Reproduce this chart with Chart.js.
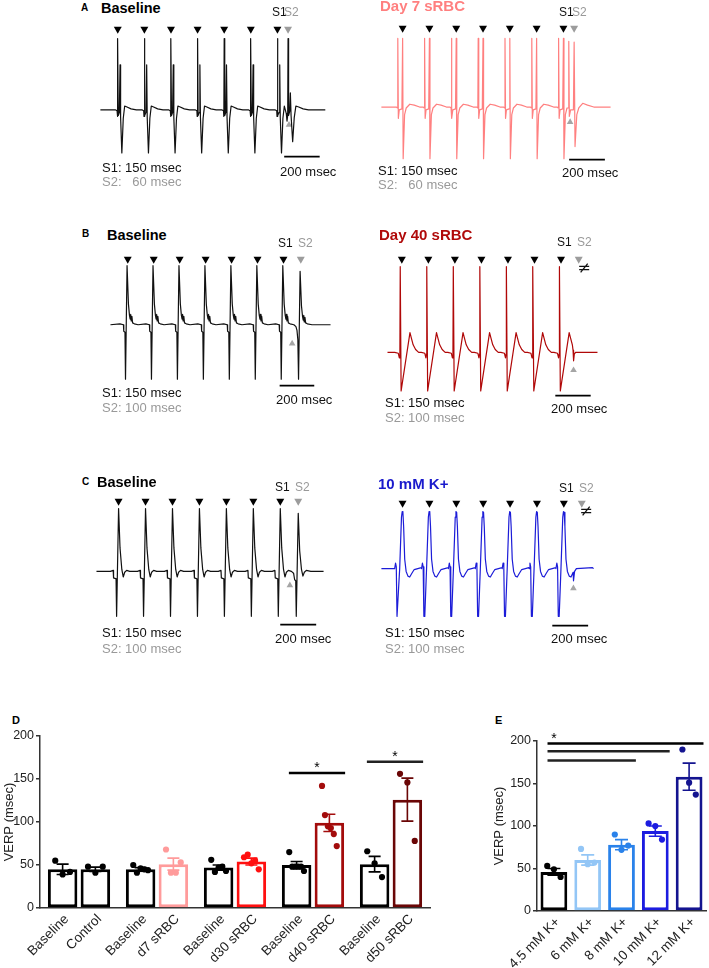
<!DOCTYPE html>
<html>
<head>
<meta charset="utf-8">
<script src="https://cdn.jsdelivr.net/npm/chart.js@4.4.1/dist/chart.umd.min.js"></script>
<style>
html, body { margin: 0; padding: 0; background: #fff; }
#fig { position: relative; width: 709px; height: 968px; overflow: hidden; font-family: "Liberation Sans", Arial, sans-serif; }
#fig canvas { position: absolute; }
.t { position: absolute; white-space: pre; line-height: 1.15; transform: translateY(-50%); }
</style>
</head>
<body>
<div id="fig"></div>
<script>
// ---- stimulus protocol (ms from first S1) ----
const s1Times = [0, 150, 300, 450, 600, 750, 900];
const s2TimeA = 960;
const s2TimeBC = 1000;

// recorded window of each trace (ms)
const spanA1 = [-98, 1170];
const spanA2 = [-119, 1164];
const spanB1 = [-100, 1172];
const spanB2 = [-81, 1106];
const spanC1 = [-123, 1141];
const spanC2 = [-118, 1066];

// beat shapes: [ms from stimulus, amplitude]
const beatBaseA = [[-14,0],[-4,-1],[-2,-7],[0,76],[3,-6],[9,-3],[13,48],[16,-8],[23,-46],[31,-9],[39,4],[52,3],[75,1],[105,0]];
const beatBaseA_S2 = [[-10,-4],[-6,-12],[-2,-6],[0,76],[3,-6],[9,-2],[13,18],[17,-6],[26,-34],[35,-8],[44,4],[60,3],[85,1],[115,0]];
const beatD7 = [[-34,0],[-29,-1],[-27,73],[-24,-12],[-19,-3],[-4,-2],[0,73],[3,-55],[11,-8],[20,-1],[40,3],[65,2],[95,0]];
const beatD7_S2 = [[-33,-1],[-30,70],[-27,-10],[-20,-3],[-4,-3],[0,69],[5,-42],[15,-8],[26,-1],[48,4],[75,2],[110,0]];
const beatBaseB = [[-45,1],[-25,0],[-23,-7],[-16,-8],[-13,-58],[-4,63],[4,22],[10,10],[14,6],[17,11],[20,4],[24,9],[28,2],[38,1],[60,0]];
const beatBaseB_S2 = [[-28,-2],[-22,-6],[-17,-16],[-13,-58],[-4,57],[4,20],[10,9],[14,5],[17,10],[20,3],[24,8],[28,2],[38,1],[65,0]];
const beatD40 = [[-40,0],[-20,-1],[-14,-6],[-11,-2],[-9,91],[-4,-41],[46,21],[54,15],[64,8],[78,3],[95,0]];
const beatD40_S2 = [[-32,2],[-29,-9],[-25,-2],[-18,0],[60,0]];
const beatBaseC = [[-45,0],[-30,1],[-28,-7],[-14,-8],[-11,-48],[0,67],[8,25],[18,2],[26,-6],[34,-1],[45,1],[62,0]];
const beatBaseC_S2 = [[-26,-2],[-20,-9],[-14,-10],[-11,-48],[0,62],[8,22],[18,2],[26,-5],[34,-1],[45,1],[70,0]];
const beatK10 = [[-44,0],[-39,6],[-35,2],[-31,-51],[-26,-51],[-16,0],[-6,55],[-2,61],[2,60],[6,45],[12,10],[20,-3],[30,-8],[40,-9],[52,-5],[65,-1],[85,0],[105,1]];
const beatK10_S2 = [[-48,-4],[-46,-13],[-40,-3],[-30,0],[60,1]];

// ---- panel D ----
const labelsD = ['Baseline', 'Control', 'Baseline', 'd7 sRBC', 'Baseline', 'd30 sRBC', 'Baseline', 'd40 sRBC', 'Baseline', 'd50 sRBC'];
const meansD = [45, 45, 45, 51, 47, 54, 50, 99, 51, 126];
const semD = [6, 2.5, 2, 7, 3, 4, 4, 10, 9, 25];
const dotsD = [
  [55, 39, 42],
  [48, 41, 48],
  [50, 41, 46, 45, 44],
  [68, 41, 41, 53],
  [56, 42, 47, 48, 43],
  [59, 62, 52, 55, 45],
  [65, 48, 48, 48, 48, 43],
  [142, 108, 95, 93, 86, 72],
  [66, 52, 36],
  [156, 146, 78]
];
const sigD = [[6, 7, 157], [8, 9, 170]];

// ---- panel E ----
const labelsE = ['4.5 mM K+', '6 mM K+', '8 mM K+', '10 mM K+', '12 mM K+'];
const meansE = [46, 60, 78, 94, 158];
const semE = [4, 6, 6, 6, 16];
const dotsE = [
  [53, 49, 40],
  [73, 55, 57],
  [90, 72, 77],
  [103, 100, 84],
  [190, 151, 137]
];
const sigE = [[0, 4, 197], [0, 3, 188], [0, 2, 177]];

const yTicks = [0, 50, 100, 150, 200];

// colours
const colorsD = ['#000', '#000', '#000', '#ff9b9b', '#000', '#ff1010', '#000', '#a30c0c', '#000', '#6a0606'];
const colorsE = ['#000', '#93c6f6', '#2a82ea', '#1c1ce0', '#141490'];

const FONT = '"Liberation Sans", Arial, sans-serif';
const fig = document.getElementById('fig');

function addCanvas(left, top, w, h) {
  const c = document.createElement('canvas');
  c.width = w; c.height = h;
  c.style.left = left + 'px'; c.style.top = top + 'px';
  c.style.width = w + 'px'; c.style.height = h + 'px';
  fig.appendChild(c);
  return c;
}

function addText(txt, x, y, size, color, weight, center) {
  const d = document.createElement('div');
  d.className = 't';
  d.textContent = txt;
  d.style.left = x + 'px';
  d.style.top = y + 'px';
  d.style.fontSize = size + 'px';
  d.style.color = color || '#111';
  d.style.fontWeight = weight || 400;
  if (center) {
    d.style.transform = 'translate(-50%,-50%)';
    d.style.fontFamily = '"DejaVu Sans", sans-serif';
  }
  fig.appendChild(d);
}

// join beat shapes at each stimulus, each beat cut where the next one starts
function buildTrace(stims, span) {
  const pts = [{x: span[0], y: 0}];
  stims.forEach((s, i) => {
    const next = stims[i + 1];
    const limit = next ? next.t + next.tpl[0][0] : span[1];
    s.tpl.forEach(([dt, v]) => {
      const t = s.t + dt;
      if (t < limit && t > pts[pts.length - 1].x && t < span[1]) pts.push({x: t, y: v});
    });
  });
  pts.push({x: span[1], y: 0});
  return pts;
}

const scaleBarPlugin = {
  id: 'scaleBar',
  afterDatasetsDraw(chart, args, opts) {
    const {ctx, scales: {x, y}} = chart;
    ctx.save();
    ctx.strokeStyle = '#000';
    ctx.lineWidth = 1.8;
    ctx.beginPath();
    ctx.moveTo(x.getPixelForValue(opts.t), y.getPixelForValue(opts.v));
    ctx.lineTo(x.getPixelForValue(opts.t + 200), y.getPixelForValue(opts.v));
    ctx.stroke();
    ctx.restore();
  }
};

const panels = [
  {beat: beatBaseA, beatS2: beatBaseA_S2, s2: s2TimeA, span: spanA1, color: '#111',
   box: [92, 17, 242, 149], arrowX: 114, arrowY: 25, baseY: 111, ppm: 0.1844, barPx: [287, 161], ptrPx: [292, 127]},
  {beat: beatD7, beatS2: beatD7_S2, s2: s2TimeA, span: spanA2, color: '#ff8080',
   box: [373, 15, 246, 154], arrowX: 399, arrowY: 24, baseY: 108, ppm: 0.1856, barPx: [572, 164], ptrPx: [573, 124]},
  {beat: beatBaseB, beatS2: beatBaseB_S2, s2: s2TimeBC, span: spanB1, color: '#111',
   box: [102, 247, 238, 148], arrowX: 124, arrowY: 255, baseY: 325, ppm: 0.18, barPx: [282, 390], ptrPx: [295, 345]},
  {beat: beatD40, beatS2: beatD40_S2, s2: s2TimeBC, span: spanB2, color: '#b00808',
   box: [379, 247, 226, 157], arrowX: 398, arrowY: 255, baseY: 354, ppm: 0.1844, barPx: [558, 400], ptrPx: [577, 373]},
  {beat: beatBaseC, beatS2: beatBaseC_S2, s2: s2TimeBC, span: spanC1, color: '#111',
   box: [88, 489, 244, 145], arrowX: 115, arrowY: 497, baseY: 572, ppm: 0.1867, barPx: [283, 629], ptrPx: [293, 587]},
  {beat: beatK10, beatS2: beatK10_S2, s2: s2TimeBC, span: spanC2, color: '#1c1cd8',
   box: [373, 491, 229, 144], arrowX: 399, arrowY: 499, baseY: 569, ppm: 0.1867, barPx: [555, 630], ptrPx: [577, 590]}
];

panels.forEach(p => {
  const [left, top, w, h] = p.box;
  const cv = addCanvas(left, top, w, h);
  const toT = px => (px - p.arrowX) / p.ppm;
  const toV = py => p.baseY - py;
  const stims = s1Times.map(t => ({t: t, tpl: p.beat})).concat([{t: p.s2, tpl: p.beatS2}]);
  const trace = buildTrace(stims, p.span);
  const arrowV = toV(p.arrowY);
  const marks = s1Times.map(t => ({x: t, y: arrowV})).concat([{x: p.s2, y: arrowV}]);
  new Chart(cv, {
    type: 'line',
    data: {
      datasets: [
        {data: trace, borderColor: p.color, borderWidth: 1.2, pointRadius: 0, tension: 0,
         borderJoinStyle: 'round', clip: false},
        {data: marks, showLine: false, pointStyle: 'triangle', rotation: 180, pointRadius: 4.6,
         pointBackgroundColor: marks.map((m, i) => i < s1Times.length ? '#000' : '#9c9c9c'),
         pointBorderWidth: 0, clip: false},
        {data: [{x: toT(p.ptrPx[0]), y: toV(p.ptrPx[1])}], showLine: false, pointStyle: 'triangle',
         rotation: 0, pointRadius: 3.8, pointBackgroundColor: '#a5a5a5', pointBorderWidth: 0, clip: false}
      ]
    },
    options: {
      responsive: false, animation: false, events: [],
      layout: {padding: 0},
      plugins: {legend: {display: false}, tooltip: {enabled: false},
                scaleBar: {t: toT(p.barPx[0]), v: toV(p.barPx[1])}},
      scales: {
        x: {type: 'linear', display: false, min: toT(left), max: toT(left + w)},
        y: {display: false, min: toV(top + h), max: toV(top)}
      }
    },
    plugins: [scaleBarPlugin]
  });
});

// ---- texts of panels A-C ----
const texts = [
  ['A', 81, 8, 10, '#000', 700],
  ['Baseline', 101, 8, 14.5, '#000', 700],
  ['S1', 272, 13, 12, '#111'], ['S2', 284, 13, 12, '#999'],
  ['S1: 150 msec', 102, 168, 13, '#111'], ['S2:   60 msec', 102, 182, 13, '#999'],
  ['200 msec', 280, 172, 13, '#111'],
  ['Day 7 sRBC', 380, 6, 15, '#ff7f7f', 700],
  ['S1', 559, 13, 12, '#111'], ['S2', 572, 13, 12, '#999'],
  ['S1: 150 msec', 378, 171, 13, '#111'], ['S2:   60 msec', 378, 185, 13, '#999'],
  ['200 msec', 562, 173, 13, '#111'],
  ['B', 82, 234, 10, '#000', 700],
  ['Baseline', 107, 235, 14.5, '#000', 700],
  ['S1', 278, 244, 12, '#111'], ['S2', 298, 244, 12, '#999'],
  ['S1: 150 msec', 102, 393, 13, '#111'], ['S2: 100 msec', 102, 408, 13, '#999'],
  ['200 msec', 276, 400, 13, '#111'],
  ['Day 40 sRBC', 379, 235, 15, '#b00a0a', 700],
  ['S1', 557, 243, 12, '#111'], ['S2', 577, 243, 12, '#999'],
  ['S1: 150 msec', 385, 403, 13, '#111'], ['S2: 100 msec', 385, 418, 13, '#999'],
  ['200 msec', 551, 409, 13, '#111'],
  ['C', 82, 482, 10, '#000', 700],
  ['Baseline', 97, 482, 14.5, '#000', 700],
  ['S1', 275, 488, 12, '#111'], ['S2', 295, 488, 12, '#999'],
  ['S1: 150 msec', 102, 633, 13, '#111'], ['S2: 100 msec', 102, 649, 13, '#999'],
  ['200 msec', 275, 639, 13, '#111'],
  ['10 mM K+', 378, 484, 15, '#1a1acc', 700],
  ['S1', 559, 489, 12, '#111'], ['S2', 579, 489, 12, '#999'],
  ['S1: 150 msec', 385, 633, 13, '#111'], ['S2: 100 msec', 385, 649, 13, '#999'],
  ['200 msec', 551, 639, 13, '#111'],
  ['D', 12, 720, 11, '#000', 700],
  ['E', 495, 720, 11, '#000', 700]
];
texts.forEach(a => addText(a[0], a[1], a[2], a[3], a[4], a[5]));
addText('\u2260', 584, 268, 16, '#111', 400, true);
addText('\u2260', 586, 511, 16, '#111', 400, true);

// ---- bar panels ----
function drawExtras(chart, bars, means, sems, dots, colors, labels, sig, capW, starSide) {
  const {ctx, scales: {y}} = chart;
  const base = y.getPixelForValue(0);
  ctx.save();
  bars.forEach((b, i) => {
    const c = colors[i];
    // error bar
    ctx.strokeStyle = c;
    ctx.lineWidth = 1.6;
    const yt = y.getPixelForValue(means[i] + sems[i]);
    const yb = y.getPixelForValue(means[i] - sems[i]);
    ctx.beginPath();
    ctx.moveTo(b.x, yt); ctx.lineTo(b.x, yb);
    ctx.moveTo(b.x - capW / 2, yt); ctx.lineTo(b.x + capW / 2, yt);
    ctx.moveTo(b.x - capW / 2, yb); ctx.lineTo(b.x + capW / 2, yb);
    ctx.stroke();
    // individual points
    const pts = dots[i];
    const spread = b.w * 0.5;
    ctx.fillStyle = c;
    pts.forEach((v, j) => {
      const dx = pts.length > 1 ? (j / (pts.length - 1) - 0.5) * spread : 0;
      ctx.beginPath();
      ctx.arc(b.x + dx, y.getPixelForValue(v), 3.1, 0, Math.PI * 2);
      ctx.fill();
    });
    // rotated category label
    ctx.fillStyle = '#222';
    ctx.font = '13.5px ' + FONT;
    ctx.textAlign = 'right';
    ctx.textBaseline = 'middle';
    ctx.save();
    ctx.translate(b.x + 4, base + 9);
    ctx.rotate(-Math.PI / 4);
    ctx.fillText(labels[i], 0, 0);
    ctx.restore();
  });
  // significance lines
  sig.forEach(([a, z, v], k) => {
    const x0 = bars[a].x - bars[a].w / 2 + 7;
    const x1 = bars[z].x + bars[z].w / 2 + 1;
    const yy = y.getPixelForValue(v);
    ctx.strokeStyle = k === 0 ? '#000' : '#222';
    ctx.lineWidth = 2.4;
    ctx.beginPath(); ctx.moveTo(x0, yy); ctx.lineTo(x1, yy); ctx.stroke();
    if (starSide === 'mid' || k === 0) {
      ctx.fillStyle = '#000';
      ctx.font = '14px ' + FONT;
      ctx.textAlign = 'center';
      ctx.textBaseline = 'alphabetic';
      const sx = starSide === 'mid' ? (x0 + x1) / 2 : bars[a].x;
      ctx.fillText('*', sx, yy - 1);
    }
  });
  ctx.restore();
}

function yAxis(width) {
  return {
    min: 0, max: 200,
    afterBuildTicks: s => { s.ticks = yTicks.map(v => ({value: v})); },
    ticks: {color: '#222', font: {family: FONT, size: 12.5}, padding: 2},
    grid: {drawOnChartArea: false, drawTicks: true, tickLength: 4, color: '#333', lineWidth: 1.5},
    border: {color: '#333', width: 1.5},
    title: {display: true, text: 'VERP (msec)', color: '#222', font: {family: FONT, size: 13}, padding: {top: 2, bottom: 0}},
    afterFit: s => { s.width = width; }
  };
}
const xAxis = {
  grid: {display: false, drawTicks: false},
  ticks: {display: false},
  border: {color: '#333', width: 1.5},
  afterFit: s => { s.height = 0; }
};

// panel D: five pairs (baseline vs treatment)
const cvD = addCanvas(0, 726, 445, 242);
new Chart(cvD, {
  type: 'bar',
  data: {
    labels: ['', '', '', '', ''],
    datasets: [0, 1].map(k => ({
      data: meansD.filter((_, i) => i % 2 === k),
      borderColor: colorsD.filter((_, i) => i % 2 === k),
      backgroundColor: '#fff',
      borderWidth: 3,
      borderSkipped: false,
      categoryPercentage: 0.84,
      barPercentage: 0.9
    }))
  },
  options: {
    responsive: false, animation: false, events: [],
    layout: {padding: {top: 10, right: 15, bottom: 60, left: 0}},
    plugins: {legend: {display: false}, tooltip: {enabled: false}},
    scales: {x: xAxis, y: yAxis(40)}
  },
  plugins: [{
    id: 'extrasD',
    afterDatasetsDraw(chart) {
      const bars = labelsD.map((_, i) => {
        const el = chart.getDatasetMeta(i % 2).data[Math.floor(i / 2)];
        return {x: el.x, w: el.width};
      });
      drawExtras(chart, bars, meansD, semD, dotsD, colorsD, labelsD, sigD, 12, 'mid');
    }
  }]
});

// panel E: potassium series
const cvE = addCanvas(490, 731, 219, 237);
new Chart(cvE, {
  type: 'bar',
  data: {
    labels: labelsE,
    datasets: [{
      data: meansE,
      borderColor: colorsE,
      backgroundColor: '#fff',
      borderWidth: 3,
      borderSkipped: false,
      categoryPercentage: 0.9,
      barPercentage: 0.88
    }]
  },
  options: {
    responsive: false, animation: false, events: [],
    layout: {padding: {top: 10, right: 3, bottom: 57, left: 0}},
    plugins: {legend: {display: false}, tooltip: {enabled: false}},
    scales: {x: xAxis, y: yAxis(47)}
  },
  plugins: [{
    id: 'extrasE',
    afterDatasetsDraw(chart) {
      const bars = chart.getDatasetMeta(0).data.map(el => ({x: el.x, w: el.width}));
      drawExtras(chart, bars, meansE, semE, dotsE, colorsE, labelsE, sigE, 13, 'left');
    }
  }]
});
</script>
</body>
</html>
